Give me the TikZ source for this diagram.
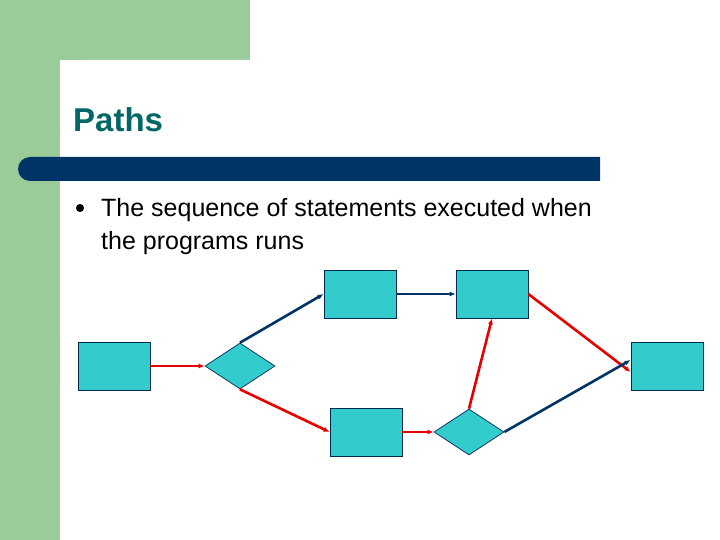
\documentclass[tikz,border=0pt]{standalone}
\usepackage{fontspec}
\setmainfont{Liberation Sans}
\usetikzlibrary{shapes.geometric,arrows.meta}
\definecolor{grn}{RGB}{153,204,153}
\definecolor{teal2}{RGB}{0,102,102}
\definecolor{navy}{RGB}{0,51,102}
\definecolor{cy}{RGB}{51,204,204}
\definecolor{rd}{RGB}{230,0,0}
\begin{document}
\begin{tikzpicture}[x=1pt,y=-1pt,
 box/.style={draw=navy!80!black,fill=cy,minimum width=72pt,minimum height=48pt,inner sep=0,line width=0.7pt},
 dia/.style={diamond,draw=navy!80!black,fill=cy,minimum width=70pt,minimum height=46pt,inner sep=0,aspect=1.5,line width=0.7pt},
 ra/.style={draw=rd,line width=2.6pt,-{Latex[length=6pt,width=5pt]}},
 ba/.style={draw=navy,line width=2.6pt,-{Latex[length=6pt,width=5pt]}},
 txt/.style={anchor=base west,inner sep=0,font=\fontsize{25}{30}\selectfont}]
\useasboundingbox (0,0) rectangle (720,540);
\fill[grn] (0,0) rectangle (250,60);
\fill[grn] (0,0) rectangle (60,540);
\fill[white] (60,540) [rounded corners=25pt] -- (60,60) [sharp corners] -- (720,60) -- (720,540) -- cycle;
\node[anchor=base west,inner sep=0,text=teal2,font=\bfseries\fontsize{33}{40}\selectfont] (title) at (73,132) {Paths};
\fill[navy] (600,157) [rounded corners=12pt] -- (18,157) -- (18,181) [sharp corners] -- (600,181) -- cycle;
\node[circle,fill=black,inner sep=0,minimum size=8pt] (bul) at (80,208) {};
\node[txt] (t1) at (101,217) {The sequence of statements executed when};
\node[txt] (t2) at (101,249) {the programs runs};
\node[box] (A) at (114,366) {};
\node[dia] (d1) at (240,366) {};
\node[box] (B) at (360,294) {};
\node[box] (C) at (492,294) {};
\node[box] (D) at (366,432) {};
\node[dia] (d2) at (469,432) {};
\node[box] (E) at (667,366) {};
\draw[ra] (A.east) -- (d1.west);
\draw[ba] (d1.north) -- (B.west);
\draw[ra] (d1.south) -- (D.west);
\draw[ba] (B.east) -- (C.west);
\draw[ra] (D.east) -- (d2.west);
\draw[ra] (d2.north) -- (C.south);
\draw[ra] (C.east) -- ([yshift=-6pt]E.west);
\draw[ba] (d2.east) -- ([yshift=6pt]E.west);
\end{tikzpicture}
\end{document}
